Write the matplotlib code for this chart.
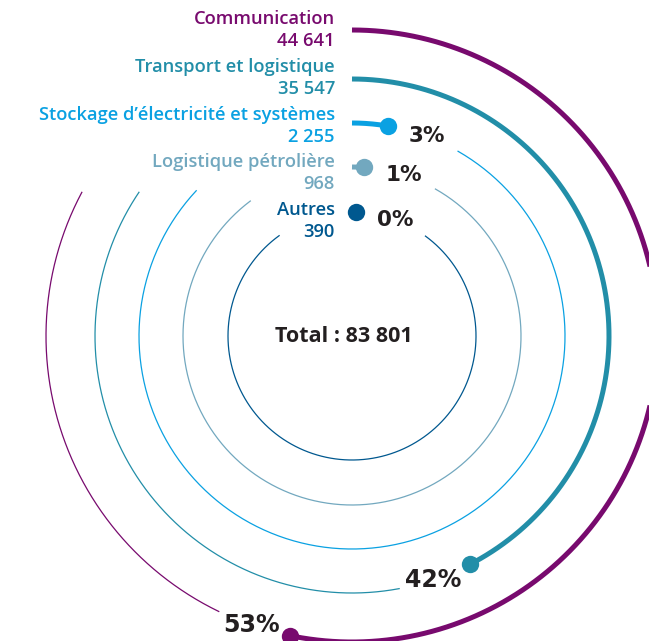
import matplotlib
matplotlib.use("Agg")
import matplotlib.pyplot as plt
import numpy as np

# ── Data ─────────────────────────────────────────────────────────────────────
sectors = [
    "Communication",
    "Transport et logistique",
    "Stockage d’électricité et systèmes",
    "Logistique pétrolière",
    "Autres",
]
values = [44641, 35547, 2255, 968, 390]

# ── Style / layout ───────────────────────────────────────────────────────────
colors = ["#780a6e", "#228ea8", "#0aa1e2", "#72a8bf", "#00588f"]
radii = [306, 257, 213, 169, 124]          # ring radius (px), outer -> inner
tail_end = [298, 304, 313, 323, 324]       # where each thin track stops (deg, clockwise from top)
CX, CY = 352, 336
W, H = 649, 641
DARK = "#231f20"
LABEL_GAP = 40      # arc length (px) from dot to percentage label
TAIL_GAP = 75       # arc length (px) from dot to start of thin track


def ring_xy(theta, r):
    t = np.radians(theta)
    return CX + r * np.sin(t), CY - r * np.cos(t)


def arc(ax, a0, a1, r, **kw):
    th = np.linspace(a0, a1, 400)
    x, y = ring_xy(th, r)
    ax.plot(x, y, **kw)


def fmt(v):
    return f"{v:,}".replace(",", " ")


total = sum(values)
shares = [v / total for v in values]

fig = plt.figure(figsize=(W / 100, H / 100), dpi=100)
ax = fig.add_axes([0, 0, 1, 1])
ax.set_xlim(0, W)
ax.set_ylim(H, 0)
ax.axis("off")

for i, (name, v, s) in enumerate(zip(sectors, values, shares)):
    r, c = radii[i], colors[i]
    end = 360 * s

    # thick value arc from 12 o'clock, ending in a dot
    if end > 0.5:
        arc(ax, 0, end, r, color=c, lw=3.6, solid_capstyle="butt", zorder=3)
    dx, dy = ring_xy(end, r)
    ax.plot(dx, dy, "o", ms=12.5, color=c, mec="none", zorder=4)

    # percentage label sits on the ring just past the dot
    lx, ly = ring_xy(end + np.degrees(LABEL_GAP / r), r)
    ax.text(lx, ly, f"{round(100 * s)}%", ha="center", va="center",
            fontsize=17 if s > 0.1 else 15.5, fontweight="heavy",
            color=DARK, family="DejaVu Sans", zorder=5)

    # thin track for the rest of the ring
    arc(ax, end + np.degrees(TAIL_GAP / r), tail_end[i], r,
        color=c, lw=0.9, zorder=2)

    # sector name and value, right-aligned above the rings
    y0 = 24 + 47.8 * i
    ax.text(335, y0, name, ha="right", va="baseline", fontsize=13.2,
            fontweight="semibold", color=c, family="Open Sans")
    ax.text(335, y0 + 22, fmt(v), ha="right", va="baseline", fontsize=13.2,
            fontweight="semibold", color=c, family="Open Sans")

ax.text(CX - 8, CY, f"Total : {fmt(total)}", ha="center", va="center",
        fontsize=15.5, fontweight="bold", color=DARK, family="Open Sans")

fig.savefig("out.png", dpi=100, facecolor="white")
